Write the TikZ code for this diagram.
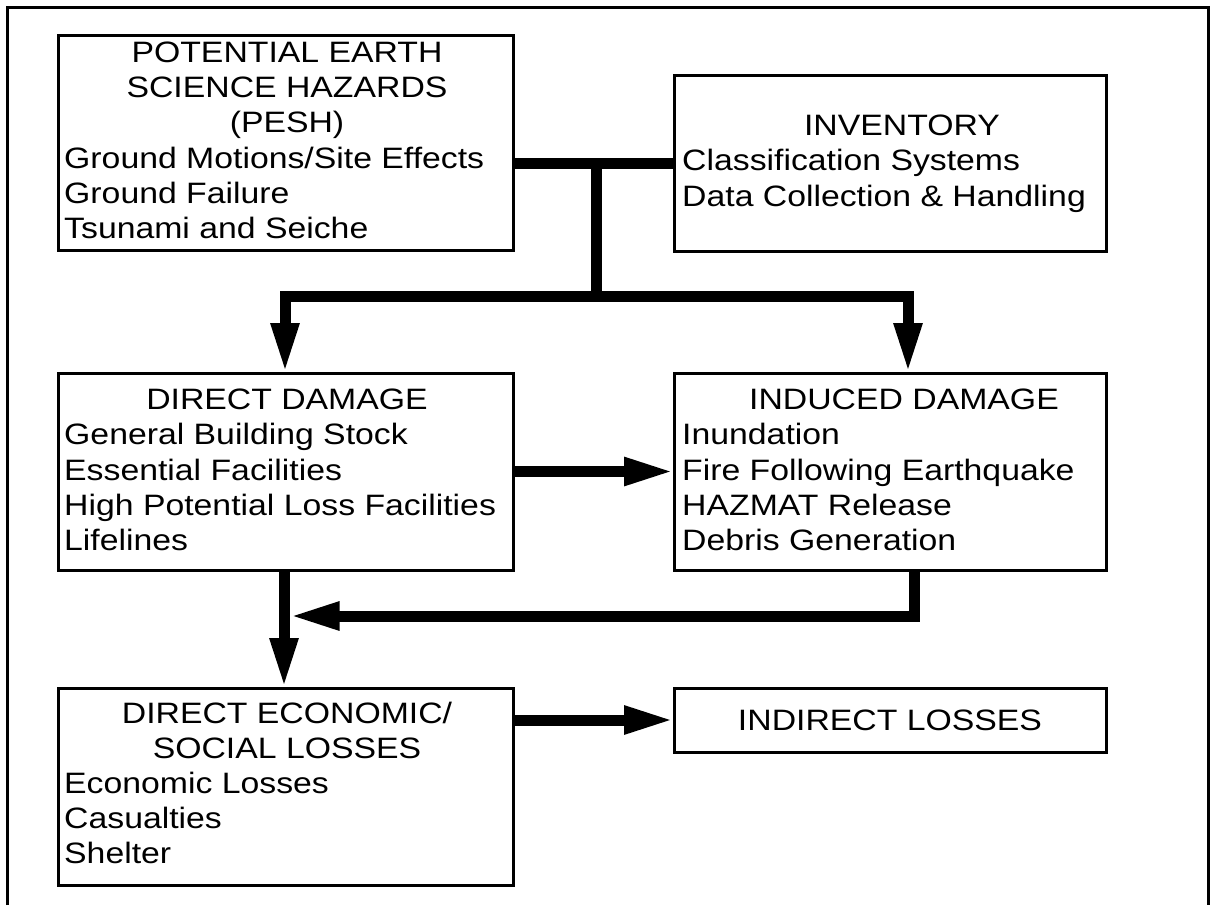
\documentclass[tikz,border=0pt]{standalone}
\usepackage{fontspec}
\setmainfont{Liberation Sans}[FakeStretch=1.145]
\usetikzlibrary{arrows.meta}
\tikzset{
  box/.style={draw, line width=3pt, rectangle, inner sep=0pt, outer sep=0pt},
  ttl/.style={anchor=base, inner sep=0pt},
  itm/.style={anchor=base west, inner sep=0pt},
  fat/.style={line width=11pt, line join=miter},
  tip/.style={-{Triangle[length=50pt,width=26pt]}},
}
\begin{document}
\begin{tikzpicture}[x=1pt,y=-1pt,font=\fontsize{29.5}{35}\selectfont]
\useasboundingbox (0,0) rectangle (1210,905);
% outer frame
\draw[line width=3pt] (7,905) -- (7,7) -- (1208,7) -- (1208,905);
% boxes
\node[box, minimum width=455pt, minimum height=215pt] (pesh) at (285.5,142.5) {};
\node[box, minimum width=432pt, minimum height=176pt] (inv) at (890,163) {};
\node[box, minimum width=455pt, minimum height=197pt] (dd) at (285.5,471.5) {};
\node[box, minimum width=432pt, minimum height=197pt] (id) at (890,471.5) {};
\node[box, minimum width=455pt, minimum height=197pt] (del) at (285.5,786.5) {};
\node[box, minimum width=432pt, minimum height=64pt] (il) at (890,720) {};
% texts
\node[ttl] (p1) at (287,62) {POTENTIAL EARTH};
\node[ttl] (p2) at (287,97) {SCIENCE HAZARDS};
\node[ttl] (p3) at (287,132) {(PESH)};
\node[itm] (p4) at (64,168) {Ground Motions/Site Effects};
\node[itm] (p5) at (64,203) {Ground Failure};
\node[itm] (p6) at (64,238) {Tsunami and Seiche};
\node[ttl] (i1) at (902,135) {INVENTORY};
\node[itm] (i2) at (682,170) {Classification Systems};
\node[itm] (i3) at (682,206) {Data Collection \& Handling};
\node[ttl] (d1) at (287,409) {DIRECT DAMAGE};
\node[itm] (d2) at (64,444) {General Building Stock};
\node[itm] (d3) at (64,480) {Essential Facilities};
\node[itm] (d4) at (64,515) {High Potential Loss Facilities};
\node[itm] (d5) at (64,550) {Lifelines};
\node[ttl] (n1) at (904,409) {INDUCED DAMAGE};
\node[itm] (n2) at (682,444) {Inundation};
\node[itm] (n3) at (682,480) {Fire Following Earthquake};
\node[itm] (n4) at (682,515) {HAZMAT Release};
\node[itm] (n5) at (682,550) {Debris Generation};
\node[ttl] (e1) at (287,723) {DIRECT ECONOMIC/};
\node[ttl] (e2) at (287,758) {SOCIAL LOSSES};
\node[itm] (e3) at (64,793) {Economic Losses};
\node[itm] (e4) at (64,828) {Casualties};
\node[itm] (e5) at (64,863) {Shelter};
\node[ttl] (l1) at (890,730) {INDIRECT LOSSES};
% connectors
\coordinate (j) at (596,163);
\coordinate (j1) at (596,296);
\coordinate (bl) at (285,296);
\coordinate (br) at (908,296);
\coordinate (r1) at (914,616);
\coordinate (rj) at (289.5,616);
\coordinate (dc) at (284,600);
\draw[fat] (inv.west) -- (pesh.east |- inv.west);
\draw[fat] (j) -- (j1);
\draw[fat, {Triangle[length=50pt,width=26pt]}-{Triangle[length=50pt,width=26pt]}]
  (bl |- dd.north) -- (bl) -- (br) -- (br |- id.north);
\draw[fat, tip] (dd.east) -- (id.west);
\draw[fat, tip] (id.south -| r1) -- (r1) -- (rj);
\draw[fat, tip] (dd.south -| dc) -- (del.north -| dc);
\draw[fat, tip] (del.east |- il.west) -- (il.west);
\end{tikzpicture}
\end{document}
